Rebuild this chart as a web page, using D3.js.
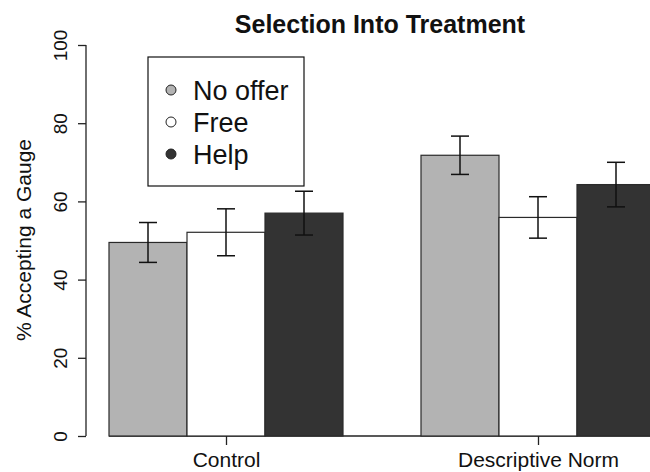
<!DOCTYPE html>
<html>
<head>
<meta charset="utf-8">
<script src="https://cdn.jsdelivr.net/npm/d3@7"></script>
<style>
  html, body { margin: 0; padding: 0; background: #fff; }
  svg { display: block; font-family: "Liberation Sans", Arial, sans-serif; }
</style>
</head>
<body>
<svg id="chart" width="650" height="472"></svg>
<script>
// ---- data ----
const groups = ["Control", "Descriptive Norm"];
const series = ["No offer", "Free", "Help"];
const noOffer = [49.5, 71.8];
const free = [52.1, 55.9];
const help = [57.0, 64.3];
const noOfferErr = [5.1, 4.9];
const freeErr = [6.0, 5.3];
const helpErr = [5.6, 5.7];
const yTicks = [0, 20, 40, 60, 80, 100];
const colors = ["#b3b3b3", "#ffffff", "#333333"];

const values = [noOffer, free, help];
const errs = [noOfferErr, freeErr, helpErr];

const svg = d3.select("#chart");

const y = d3.scaleLinear().domain([0, 100]).range([436, 45]);
const x0 = d3.scaleBand().domain(groups).range([109, 655]).paddingInner(0.25).paddingOuter(0);
const x1 = d3.scaleBand().domain(series).range([0, x0.bandwidth()]).padding(0);

// baseline
svg.append("line")
  .attr("x1", x0(groups[0])).attr("x2", 660)
  .attr("y1", y(0)).attr("y2", y(0))
  .attr("stroke", "#222").attr("stroke-width", 1.3);

// bars
const data = [];
groups.forEach((g, gi) => series.forEach((s, si) => {
  data.push({ g, s, si, v: values[si][gi], e: errs[si][gi] });
}));

svg.append("g").selectAll("rect").data(data).join("rect")
  .attr("x", d => x0(d.g) + x1(d.s))
  .attr("y", d => y(d.v))
  .attr("width", x1.bandwidth())
  .attr("height", d => y(0) - y(d.v))
  .attr("fill", d => colors[d.si])
  .attr("stroke", "#2a2a2a").attr("stroke-width", 1.2);

// error bars
const capW = 18;
const eg = svg.append("g").attr("stroke", "#111").attr("stroke-width", 1.5).attr("fill", "none");
data.forEach(d => {
  const cx = x0(d.g) + x1(d.s) + x1.bandwidth() / 2;
  const yt = y(d.v + d.e), yb = y(d.v - d.e);
  eg.append("line").attr("x1", cx).attr("x2", cx).attr("y1", yt).attr("y2", yb);
  eg.append("line").attr("x1", cx - capW / 2).attr("x2", cx + capW / 2).attr("y1", yt).attr("y2", yt);
  eg.append("line").attr("x1", cx - capW / 2).attr("x2", cx + capW / 2).attr("y1", yb).attr("y2", yb);
});

// y axis
const yAxis = d3.axisLeft(y).tickValues(yTicks).tickSize(8).tickSizeOuter(0).tickFormat(d3.format("d"));
const ya = svg.append("g").attr("transform", "translate(86,0)").call(yAxis);
ya.select(".domain").attr("stroke", "#222").attr("stroke-width", 1.3).attr("d", `M0,${y(0)}V${y(100)}`);
ya.selectAll(".tick line").attr("stroke", "#222").attr("stroke-width", 1.3);
ya.selectAll(".tick text")
  .attr("font-size", 19).attr("fill", "#111")
  .attr("text-anchor", "middle")
  .attr("x", null).attr("dy", null)
  .attr("transform", "translate(-19,0) rotate(-90)");

// x axis ticks + labels
const xCenters = groups.map(g => x0(g) + x0.bandwidth() / 2);
const xAxis = d3.axisBottom(d3.scalePoint().domain(groups).range(xCenters)).tickSize(9).tickSizeOuter(0);
const xa = svg.append("g").attr("transform", `translate(0,${y(0)})`).call(xAxis);
xa.select(".domain").remove();
xa.selectAll(".tick line").attr("stroke", "#222").attr("stroke-width", 1.3);
xa.selectAll(".tick text").attr("font-size", 21).attr("fill", "#111").attr("dy", null).attr("y", 31);

// title
svg.append("text").attr("x", 380).attr("y", 33).attr("text-anchor", "middle")
  .attr("font-size", 25).attr("font-weight", "bold").attr("fill", "#111")
  .text("Selection Into Treatment");

// y-axis title
svg.append("text").attr("transform", "translate(31,240) rotate(-90)")
  .attr("text-anchor", "middle").attr("font-size", 21).attr("fill", "#111")
  .text("% Accepting a Gauge");

// legend
const lg = svg.append("g");
lg.append("rect").attr("x", 148).attr("y", 57).attr("width", 156).attr("height", 129)
  .attr("fill", "#fff").attr("stroke", "#111").attr("stroke-width", 1.2);
const ly = d3.scalePoint().domain(series).range([90, 154]);
lg.selectAll("circle").data(series).join("circle")
  .attr("cx", 171).attr("cy", d => ly(d)).attr("r", 5)
  .attr("fill", (d, i) => colors[i]).attr("stroke", "#222").attr("stroke-width", 1);
lg.selectAll("text").data(series).join("text")
  .attr("x", 193).attr("y", d => ly(d) + 10)
  .attr("font-size", 27).attr("fill", "#111")
  .text(d => d);
</script>
</body>
</html>
